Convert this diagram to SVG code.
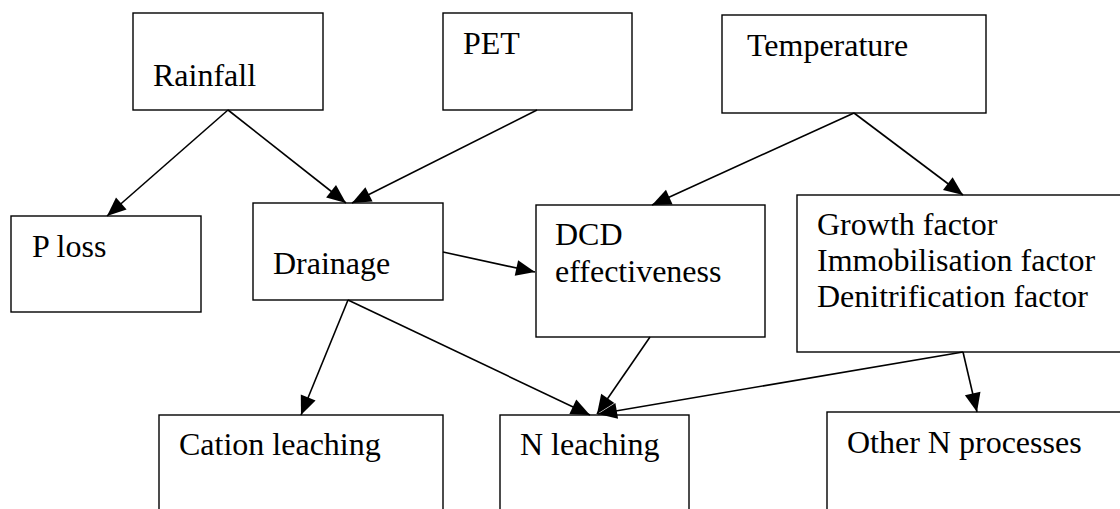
<svg xmlns="http://www.w3.org/2000/svg" width="1120" height="509" viewBox="0 0 1120 509" font-family="'Liberation Serif', 'Times New Roman', Times, serif">
<style>
.box{fill:#fff;stroke:#000;stroke-width:1.4}
.t{font-family:'Liberation Serif', 'Times New Roman', Times, serif;font-size:32px;fill:#000}
.c{stroke:#000;stroke-width:1.6;fill:none;marker-end:url(#ah)}
</style>
<defs>
<marker id="ah" markerUnits="userSpaceOnUse" markerWidth="22" markerHeight="18" refX="19" refY="8" orient="auto" overflow="visible">
<path d="M0,0 L19,8 L0,16 z" fill="#000"/>
</marker>
</defs>
<rect width="1120" height="509" fill="#fff"/>
<g id="rainfall"><rect class="box" x="133" y="13" width="190" height="97"/><text class="t" x="153" y="86">Rainfall</text></g>
<g id="pet"><rect class="box" x="443" y="13" width="189" height="97"/><text class="t" x="463" y="54">PET</text></g>
<g id="temperature"><rect class="box" x="722" y="15" width="264" height="98"/><text class="t" x="747" y="56">Temperature</text></g>
<g id="ploss"><rect class="box" x="11" y="216" width="190" height="96"/><text class="t" x="32" y="257">P loss</text></g>
<g id="drainage"><rect class="box" x="253" y="203" width="190" height="97"/><text class="t" x="273" y="274">Drainage</text></g>
<g id="dcd"><rect class="box" x="536" y="205" width="229" height="132"/><text class="t" x="555" y="245">DCD</text><text class="t" x="555" y="282">effectiveness</text></g>
<g id="factors"><rect class="box" x="797" y="195" width="330" height="157"/><text class="t" x="817" y="235">Growth factor</text><text class="t" x="817" y="271">Immobilisation factor</text><text class="t" x="817" y="307">Denitrification factor</text></g>
<g id="cation"><rect class="box" x="159" y="415" width="284" height="110"/><text class="t" x="179" y="455">Cation leaching</text></g>
<g id="nleaching"><rect class="box" x="500" y="415" width="189" height="110"/><text class="t" x="520" y="455">N leaching</text></g>
<g id="othern"><rect class="box" x="827" y="412" width="300" height="110"/><text class="t" x="847" y="453">Other N processes</text></g>
<g id="connectors">
<line class="c" x1="228" y1="110" x2="107" y2="216"/>
<line class="c" x1="228" y1="110" x2="346" y2="203"/>
<line class="c" x1="537" y1="110" x2="352" y2="203"/>
<line class="c" x1="854" y1="113" x2="652" y2="205"/>
<line class="c" x1="854" y1="113" x2="963" y2="195"/>
<line class="c" x1="443" y1="252" x2="535" y2="272"/>
<line class="c" x1="348" y1="300" x2="301" y2="415"/>
<line class="c" x1="348" y1="300" x2="590" y2="415"/>
<line class="c" x1="650" y1="337" x2="597" y2="414"/>
<line class="c" x1="963" y1="352" x2="598" y2="414"/>
<line class="c" x1="963" y1="352" x2="977" y2="412"/>
</g>
</svg>
